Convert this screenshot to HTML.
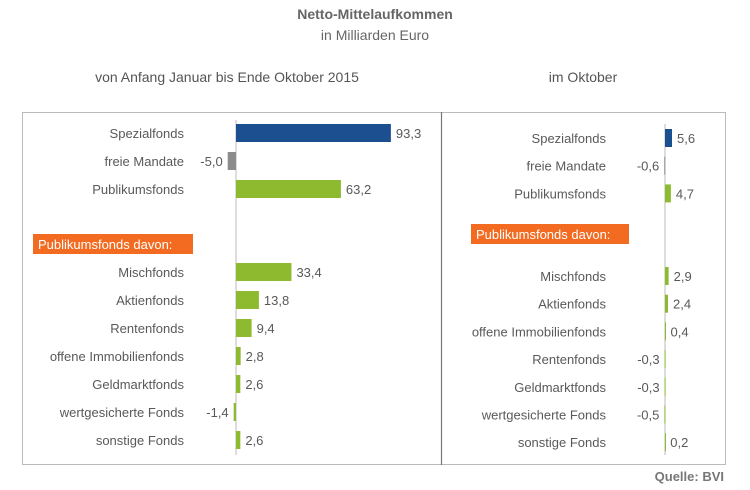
<!DOCTYPE html>
<html><head><meta charset="utf-8"><style>
body{margin:0;background:#fff;}
svg text{font-family:"Liberation Sans",Arial,sans-serif;}
</style></head><body>
<svg id="c" width="750" height="485" viewBox="0 0 750 485">
<text x="375" y="19" text-anchor="middle" font-size="14" font-weight="bold" fill="#666">Netto-Mittelaufkommen</text>
<text x="375" y="40" text-anchor="middle" font-size="14" fill="#666">in Milliarden Euro</text>
<text x="227" y="82" text-anchor="middle" font-size="14" fill="#555">von Anfang Januar bis Ende Oktober 2015</text>
<text x="583" y="82" text-anchor="middle" font-size="14" fill="#555">im Oktober</text>
<rect x="22.5" y="112.5" width="703" height="352" fill="none" stroke="#bbb"/>
<line x1="441.5" y1="112" x2="441.5" y2="465" stroke="#777" stroke-width="1.2"/>
<text x="724" y="481" text-anchor="end" font-size="13" font-weight="bold" fill="#777">Quelle: BVI</text>
</svg>
<script>
const categories=["Spezialfonds","freie Mandate","Publikumsfonds","Mischfonds","Aktienfonds","Rentenfonds","offene Immobilienfonds","Geldmarktfonds","wertgesicherte Fonds","sonstige Fonds"];
const yearValues=[93.3,-5.0,63.2,33.4,13.8,9.4,2.8,2.6,-1.4,2.6];
const octCategories=["Spezialfonds","freie Mandate","Publikumsfonds","Mischfonds","Aktienfonds","offene Immobilienfonds","Rentenfonds","Geldmarktfonds","wertgesicherte Fonds","sonstige Fonds"];
const octValues=[5.6,-0.6,4.7,2.9,2.4,0.4,-0.3,-0.3,-0.5,0.2];
const colors=["#1c4f8f","#8c8c8c","#8dba2f","#8dba2f","#8dba2f","#8dba2f","#8dba2f","#8dba2f","#8dba2f","#8dba2f"];
const svg=document.getElementById('c');const NS="http://www.w3.org/2000/svg";
function mk(t,a,txt){const e=document.createElementNS(NS,t);for(const k in a)e.setAttribute(k,a[k]);if(txt!==undefined)e.textContent=txt;svg.appendChild(e);return e;}
function fmt(v){return v.toFixed(1).replace('.',',');}
function panel(cats,vals,p){
  const x=v=>p.x0+v*p.k;
  const row=i=>i<3?p.top+i*p.step:p.top2+(i-3)*p.step;
  const ax=mk('line',{x1:p.x0,y1:p.axTop,x2:p.x0,y2:p.axBot,stroke:'#bbb','stroke-width':1});
  
  
  vals.forEach((v,i)=>{
    const cy=row(i);
    const l=mk('text',{x:p.labelX,y:cy+5,'text-anchor':'end','font-size':13,fill:'#595959'},cats[i]);
    
    
    const x1=Math.min(x(0),x(v)),w=Math.max(Math.abs(x(v)-x(0)),1);
    const b=mk('rect',{x:x1,y:cy-9,width:w,height:18,fill:colors[i]});
    
    
    const t=mk('text',{x:v>=0?x(v)+5:x(v)-5,y:cy+5,'text-anchor':v>=0?'start':'end','font-size':13,fill:'#595959'},fmt(v));
    
    
  });
  const r=mk('rect',{x:p.boxX,y:p.boxY,width:p.boxW,height:20,fill:'#f26b21'});
  
  
  const bt=mk('text',{x:p.boxX+5,y:p.boxY+15,'font-size':13,fill:'#fff'},'Publikumsfonds davon:');
  
  
}
panel(categories,yearValues,{id:'ytd',x0:236,k:1.66,top:133,top2:272,step:28,labelX:184,axTop:120,axBot:455,boxX:33,boxY:234,boxW:160});
panel(octCategories,octValues,{id:'october',x0:665,k:1.25,top:138,top2:276,step:27.7,labelX:606,axTop:124,axBot:455,boxX:471,boxY:224,boxW:158});
</script>
</body></html>
